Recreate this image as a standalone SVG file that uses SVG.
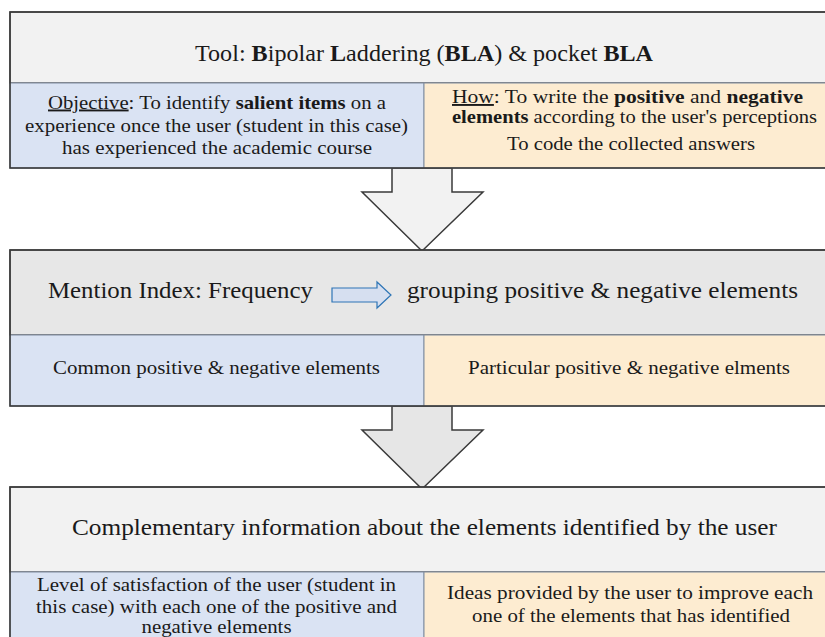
<svg xmlns="http://www.w3.org/2000/svg" width="825" height="637" viewBox="0 0 825 637">
<style>
.box{stroke:#3a3a3a;stroke-width:1.6}
.hdr{stroke:#3a3a3a;stroke-width:1.2}
.blue{fill:#dae3f3;stroke:#7f8ca0;stroke-width:1}
.orange{fill:#fdecd1;stroke:#7f8ca0;stroke-width:1}
.big{stroke:#3a3a3a;stroke-width:1.5;stroke-linejoin:miter}
text{font-family:'Times New Roman',Times,'Liberation Serif',Tinos,'Noto Serif','DejaVu Serif',FreeSerif,Georgia,serif;fill:#1a1a1a}
.h{font-size:23px}
.s{font-size:19px}
.b{font-weight:bold}
.u{text-decoration:underline}
</style>
<rect width="825" height="637" fill="#ffffff"/>

<g id="connectors">
  <polygon class="big" fill="#f2f2f2" points="392,168 452,168 452,192 483,192 422,251 362,192 392,192"/>
  <polygon class="big" fill="#e6e6e6" points="392,406 452,406 452,430 483,430 422,489 362,430 392,430"/>
</g>

<g id="tool">
  <rect class="hdr" x="10" y="12" width="830" height="71" fill="#f2f2f2"/>
  <text class="h" x="424" y="61" text-anchor="middle" textLength="458" lengthAdjust="spacingAndGlyphs">Tool: <tspan class="b">B</tspan>ipolar <tspan class="b">L</tspan>addering (<tspan class="b">BLA</tspan>) &amp; pocket <tspan class="b">BLA</tspan></text>
</g>
<g id="objective">
  <rect class="blue" x="10" y="83" width="414" height="85"/>
  <text class="s" x="217" y="108.5" text-anchor="middle" textLength="338" lengthAdjust="spacingAndGlyphs"><tspan class="u">Objective</tspan>: To identify <tspan class="b">salient items</tspan> on a</text>
  <text class="s" x="216.5" y="132" text-anchor="middle" textLength="383" lengthAdjust="spacingAndGlyphs">experience once the user (student in this case)</text>
  <text class="s" x="217" y="154" text-anchor="middle" textLength="310" lengthAdjust="spacingAndGlyphs">has experienced the academic course</text>
</g>
<g id="how">
  <rect class="orange" x="424" y="83" width="416" height="85"/>
  <text class="s" x="627.5" y="103" text-anchor="middle" textLength="351" lengthAdjust="spacingAndGlyphs"><tspan class="u">How</tspan>: To write the <tspan class="b">positive</tspan> and <tspan class="b">negative</tspan></text>
  <text class="s" x="634.5" y="123" text-anchor="middle" textLength="365" lengthAdjust="spacingAndGlyphs"><tspan class="b">elements</tspan> according to the user's perceptions</text>
  <text class="s" x="631" y="149.5" text-anchor="middle" textLength="248" lengthAdjust="spacingAndGlyphs">To code the collected answers</text>
</g>
<rect class="box" x="10" y="12" width="830" height="156" fill="none"/>

<g id="mention">
  <rect class="hdr" x="10" y="250" width="830" height="85" fill="#e7e7e7"/>
  <text class="h" x="48" y="298" textLength="265" lengthAdjust="spacingAndGlyphs">Mention Index: Frequency</text>
  <polygon fill="#d6dff0" stroke="#2e75b6" stroke-width="1.2" points="332,288 377,288 377,282 391,295 377,308 377,302 332,302"/>
  <text class="h" x="407" y="298" textLength="391" lengthAdjust="spacingAndGlyphs">grouping positive &amp; negative elements</text>
</g>
<g id="common">
  <rect class="blue" x="10" y="335" width="414" height="71"/>
  <text class="s" x="216.5" y="374" text-anchor="middle" textLength="327" lengthAdjust="spacingAndGlyphs">Common positive &amp; negative elements</text>
</g>
<g id="particular">
  <rect class="orange" x="424" y="335" width="416" height="71"/>
  <text class="s" x="629" y="374" text-anchor="middle" textLength="322" lengthAdjust="spacingAndGlyphs">Particular positive &amp; negative elments</text>
</g>
<rect class="box" x="10" y="250" width="830" height="156" fill="none"/>

<g id="complementary">
  <rect class="hdr" x="10" y="487" width="830" height="85" fill="#f2f2f2"/>
  <text class="h" x="424.5" y="535" text-anchor="middle" textLength="705" lengthAdjust="spacingAndGlyphs">Complementary information about the elements identified by the user</text>
</g>
<g id="satisfaction">
  <rect class="blue" x="10" y="572" width="414" height="80"/>
  <text class="s" x="216.5" y="591" text-anchor="middle" textLength="359" lengthAdjust="spacingAndGlyphs">Level of satisfaction of the user (student in</text>
  <text class="s" x="216.5" y="612.5" text-anchor="middle" textLength="361" lengthAdjust="spacingAndGlyphs">this case) with each one of the positive and</text>
  <text class="s" x="216.5" y="633" text-anchor="middle" textLength="150" lengthAdjust="spacingAndGlyphs">negative elements</text>
</g>
<g id="ideas">
  <rect class="orange" x="424" y="572" width="416" height="80"/>
  <text class="s" x="630" y="599" text-anchor="middle" textLength="366" lengthAdjust="spacingAndGlyphs">Ideas provided by the user to improve each</text>
  <text class="s" x="631" y="622" text-anchor="middle" textLength="318" lengthAdjust="spacingAndGlyphs">one of the elements that has identified</text>
</g>
<rect class="box" x="10" y="487" width="830" height="170" fill="none"/>
</svg>
